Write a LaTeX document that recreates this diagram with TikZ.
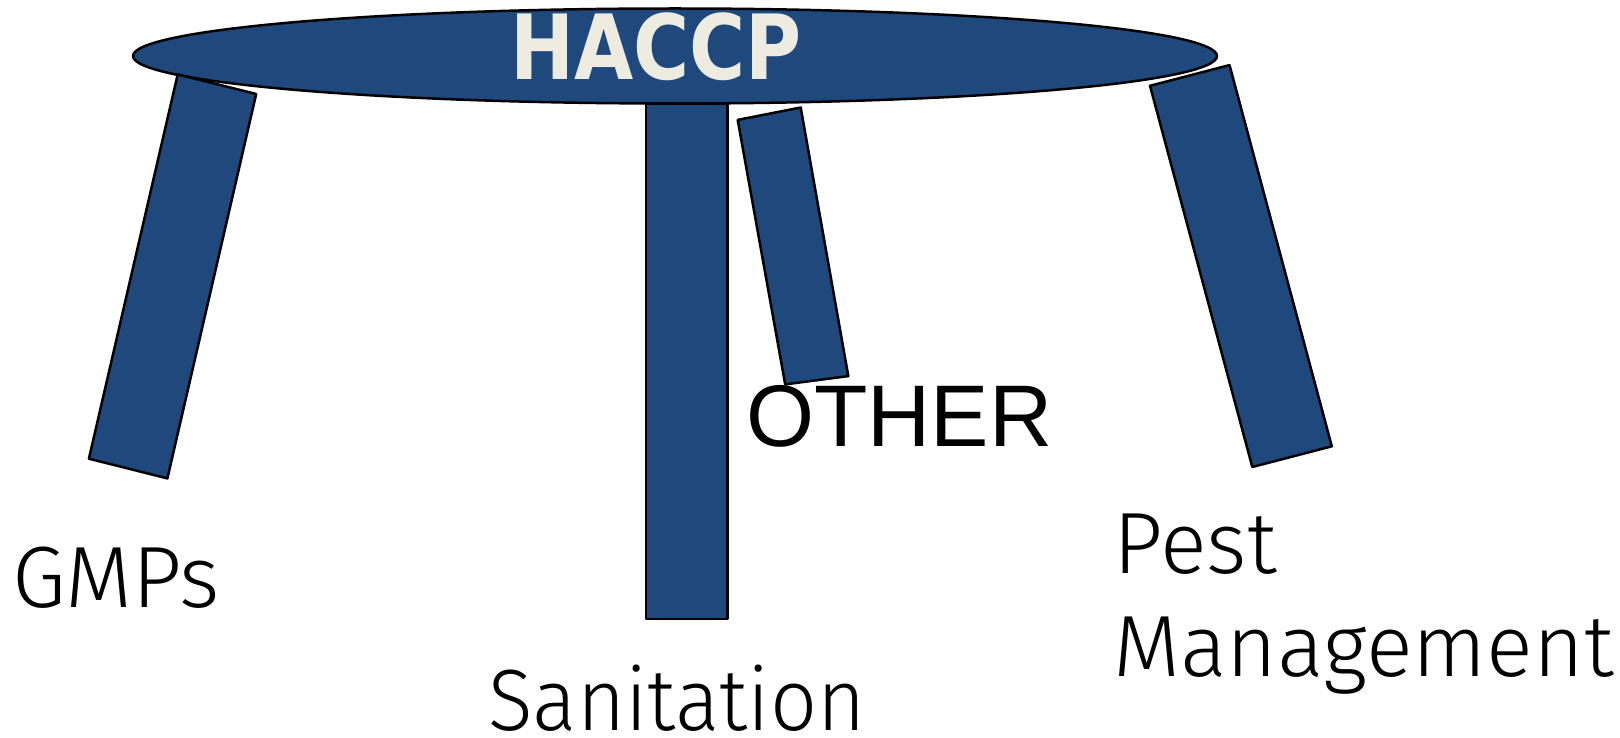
\documentclass[tikz,border=0pt]{standalone}
\usepackage{fontspec}
\setmainfont{Liberation Sans}
\newfontfamily\lightfont{Fira Sans Light}
\newfontfamily\narrowfont{Fira Sans Light}[FakeStretch=0.95]
\newfontfamily\seatfont{DejaVu Sans}[FakeStretch=0.85]
\usetikzlibrary{shapes.geometric, positioning}
\definecolor{stoolblue}{HTML}{1F497D}
\definecolor{seatcream}{HTML}{EEECE1}

\begin{document}
\begin{tikzpicture}[x=1pt, y=-1pt, line join=round,
    leg/.style={fill=stoolblue, draw=black, line width=2.5pt},
    legname/.style={anchor=base west, inner sep=0pt, font=\lightfont\fontsize{87}{103}\selectfont}]
  \useasboundingbox (0,0) rectangle (1620,738);
  % seat of the stool
  \node[ellipse, fill=stoolblue, draw=black, line width=2.5pt, inner sep=0pt,
        minimum width=1084pt, minimum height=95pt] (seat) at (675,56) {};
  \node[inner sep=0pt, text=seatcream, font=\seatfont\bfseries\fontsize{90}{90}\selectfont]
        (haccp) at (656,46.5) {HACCP};
  % legs
  \draw[leg] (177.7,74.4) -- (256.2,94) -- (167.4,478.4) -- (88.9,458.7) -- cycle;
  \draw[leg] (645.8,103.3) rectangle (727.4,618.9);
  \draw[leg] (737.7,119.9) -- (800.7,107.5) -- (848.3,376.1) -- (785.2,384.4) -- cycle;
  \draw[leg] (1150,85.8) -- (1229.5,65.1) -- (1331.8,446.3) -- (1252.3,467) -- cycle;
  % leg names
  \node[legname] (gmps) at (12,607.5) {GMPs};
  \node[legname, font=\narrowfont\fontsize{87}{103}\selectfont] (sanitation) at (488,730) {Sanitation};
  \node[anchor=base west, inner sep=0pt, font=\fontsize{87.5}{87.5}\selectfont] (other) at (746,446) {OTHER};
  \node[legname] (pest) at (1113,573.4) {Pest};
  \node[legname] (mgmt) at (1113,676.8) {Management};
\end{tikzpicture}
\end{document}
